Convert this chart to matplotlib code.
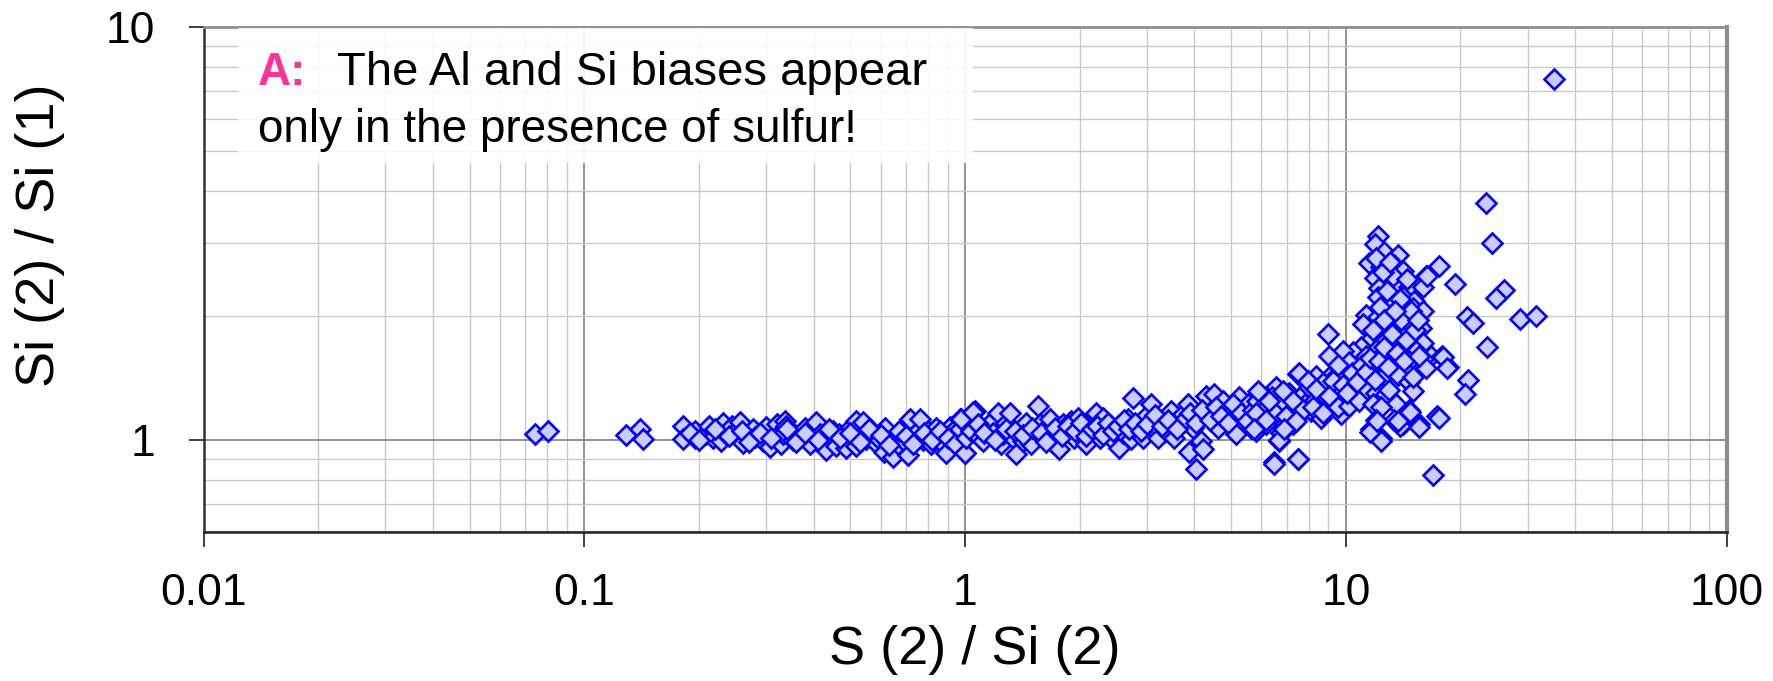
import matplotlib
matplotlib.use("Agg")
import matplotlib.pyplot as plt
from matplotlib.patches import Rectangle
from matplotlib.ticker import LogLocator, NullFormatter, FixedLocator, FixedFormatter

plt.rcParams['font.family'] = ['Liberation Sans', 'DejaVu Sans']

# S(2)/Si(2) vs Si(2)/Si(1), grouped by region of the cloud
low_x = [0.0741, 0.0804, 0.129, 0.140, 0.143, 0.182, 0.182, 0.195, 0.195, 0.209, 0.212,
         0.218, 0.229, 0.231, 0.236, 0.245, 0.248, 0.256, 0.261, 0.277, 0.280, 0.294,
         0.300, 0.308, 0.320, 0.320, 0.329, 0.336, 0.332, 0.339, 0.353, 0.368, 0.379,
         0.391, 0.407, 0.415, 0.432, 0.436, 0.450, 0.459, 0.468, 0.483, 0.488, 0.503,
         0.518, 0.518, 0.529, 0.539, 0.550, 0.562, 0.573, 0.585, 0.597, 0.611, 0.615,
         0.646, 0.652, 0.666, 0.693, 0.707, 0.715, 0.745, 0.760, 0.775, 0.799, 0.815,
         0.840, 0.866, 0.884, 0.893, 0.911, 0.939, 0.958, 0.968, 0.998,
         0.19, 0.20, 0.22, 0.24, 0.26, 0.27, 0.29, 0.31, 0.34, 0.36, 0.38, 0.41, 0.44,
         0.47, 0.50, 0.53, 0.56, 0.60, 0.63, 0.67, 0.70, 0.73, 0.78, 0.82, 0.86, 0.90,
         0.94, 0.97]
low_y = [1.036, 1.050, 1.026, 1.065, 1.007, 1.081, 1.004, 1.052, 1.013, 1.032, 1.081,
         1.013, 0.994, 1.098, 1.032, 1.081, 1.042, 1.106, 0.981, 1.061, 1.017, 0.994,
         1.075, 0.962, 1.092, 1.023, 0.976, 1.112, 1.036, 1.081, 0.998, 1.032, 1.071,
         0.980, 1.102, 1.032, 0.944, 1.032, 1.052, 0.967, 1.032, 0.994, 0.955, 1.075,
         1.112, 0.967, 1.023, 1.102, 1.004, 1.061, 1.028, 0.985, 0.998, 0.937, 1.071,
         0.911, 1.013, 0.976, 0.994, 0.920, 1.122, 1.042, 1.122, 0.998, 1.052, 0.976,
         1.071, 1.013, 0.967, 0.931, 1.075, 1.061, 1.023, 1.122, 0.931,
         1.04, 1.00, 1.06, 1.02, 1.05, 0.99, 1.04, 1.01, 1.06, 0.99, 1.04, 1.00, 1.06,
         1.01, 1.04, 0.99, 1.06, 1.03, 0.97, 1.05, 1.02, 0.98, 1.04, 1.00, 1.05, 1.01,
         0.98, 1.06]

mid_x = [0.977, 0.997, 1.007, 1.039, 1.060, 1.081, 1.093, 1.115, 1.138, 1.160, 1.183,
         1.220, 1.244, 1.256, 1.281, 1.309, 1.335, 1.362, 1.390, 1.418, 1.447, 1.476,
         1.491, 1.553, 1.569, 1.601, 1.650, 1.667, 1.700, 1.752, 1.770, 1.806, 1.843,
         1.899, 1.937, 1.977, 2.036, 2.078, 2.120, 2.166, 2.210, 2.255, 2.300, 2.347,
         2.419, 2.468, 2.544, 2.596, 2.676, 2.730, 2.758, 2.871, 2.929, 2.989, 3.081,
         3.113, 3.208, 3.273, 3.374, 3.478, 3.548, 3.658, 3.732, 3.847, 3.871, 3.964,
         4.044, 4.126, 4.168, 4.210, 4.295, 4.382, 4.517, 4.609, 4.751, 4.849, 4.998,
         5.152, 5.257, 5.419, 5.529, 5.641, 5.815, 5.931, 5.991, 6.175, 6.301, 6.495,
         6.560, 6.694, 6.761, 6.899, 7.039, 7.255, 7.403, 7.478, 7.478, 7.708, 7.865,
         8.107, 8.272, 8.440, 8.612, 8.874, 9.055, 9.239, 9.523, 9.717, 10.02, 10.22,
         10.53, 10.75, 1.05, 1.08,
         1.12, 1.20, 1.28, 1.35, 1.42, 1.50, 1.58, 1.63, 1.72, 1.80, 1.86, 1.95, 2.02,
         2.08, 2.15, 2.22, 2.30, 2.38, 2.45, 2.52, 2.62, 2.70, 2.80, 2.90, 3.00, 3.15,
         3.30, 3.42, 3.60, 3.80, 3.90, 4.05, 4.20, 4.40, 4.55, 4.70, 4.90, 5.05, 5.30,
         5.50, 5.70, 5.85, 6.05, 6.20, 6.40, 6.60, 6.85, 7.10, 7.30, 7.60, 7.80, 8.00,
         8.30, 8.50, 8.80, 9.10, 9.30, 9.60, 9.90]
mid_y = [1.122, 0.931, 1.013, 1.052, 1.176, 1.092, 1.013, 0.994, 1.071, 1.101, 1.042,
         1.165, 0.976, 1.032, 1.101, 1.165, 1.013, 0.923, 1.061, 0.994, 1.101, 1.032,
         0.976, 1.209, 1.092, 1.013, 1.052, 1.122, 0.985, 1.032, 0.949, 1.092, 1.061,
         1.112, 1.013, 1.133, 1.032, 0.976, 1.052, 1.092, 1.165, 1.013, 1.133, 1.052,
         1.081, 0.994, 0.958, 1.042, 1.122, 1.004, 1.262, 1.081, 1.013, 1.143, 1.221,
         1.061, 1.013, 1.112, 1.052, 1.176, 1.013, 1.101, 1.154, 1.221, 0.936, 1.071,
         0.849, 1.133, 0.994, 0.949, 1.279, 1.154, 1.291, 1.071, 1.244, 1.133, 1.187,
         1.032, 1.267, 1.133, 1.221, 1.071, 1.052, 1.291, 1.176, 1.092, 1.244, 0.882,
         1.340, 0.994, 1.042, 1.198, 1.291, 1.092, 1.133, 1.443, 0.898, 1.221, 1.315,
         1.176, 1.391, 1.267, 1.133, 1.221, 1.417, 1.315, 1.443, 1.154, 1.221, 1.365,
         1.291, 1.470, 1.170, 1.092,
         1.04, 1.00, 1.06, 1.05, 1.03, 1.07, 1.04, 0.99, 1.07, 1.02, 1.08, 1.05, 1.10,
         1.02, 1.06, 1.08, 1.03, 1.10, 1.05, 1.08, 1.12, 1.06, 1.10, 1.05, 1.09, 1.15,
         1.08, 1.12, 1.06, 1.13, 1.16, 1.10, 1.18, 1.12, 1.20, 1.14, 1.10, 1.22, 1.16,
         1.11, 1.18, 1.24, 1.14, 1.20, 1.27, 1.17, 1.24, 1.30, 1.19, 1.27, 1.22, 1.34,
         1.25, 1.32, 1.28, 1.36, 1.26, 1.33, 1.42]

peak_x = [12.13, 11.96, 12.62, 13.68, 11.53, 12.37, 13.40, 14.10, 11.96, 13.00, 16.22,
          17.58, 12.25, 13.54, 14.69, 15.90, 12.13, 14.10, 15.13, 12.74, 13.82, 14.99,
          15.90, 11.30, 12.13, 13.27, 14.39, 15.43, 11.07, 12.49, 13.54, 14.69, 15.74,
          11.89, 12.74, 13.96, 15.13, 11.53, 12.49, 13.27, 14.39, 15.90, 10.96, 12.01,
          13.00, 14.10, 15.28, 16.72, 17.94, 10.42, 11.30, 12.37, 13.54, 14.69, 15.90,
          18.50, 9.81, 10.21, 11.07, 11.89, 13.00, 14.10, 16.22, 9.05, 9.52, 10.63,
          11.53, 12.62, 13.68, 14.69, 14.99, 8.96, 8.35, 8.69, 9.23, 9.81, 10.42, 11.30,
          12.01, 12.74, 13.00, 13.54, 7.55, 7.94, 8.35, 9.05, 9.52, 10.21, 10.85, 11.77,
          12.37, 14.69, 17.40, 12.01, 13.40, 14.10, 15.59, 11.65, 12.37, 6.69, 7.48,
          6.49, 16.9, 5.87, 6.30, 6.83, 7.25, 7.70, 8.18, 8.69, 5.81, 6.17, 6.97, 7.40,
          6.90, 5.75,
          10.1, 10.4, 10.7, 11.0, 11.3, 11.6, 11.9, 12.2, 12.6, 12.9, 13.2, 13.6, 14.0,
          14.4, 14.8, 15.2, 15.6, 12.3, 12.8, 13.3, 13.9, 14.5, 12.0, 12.5, 13.1, 11.8,
          12.6, 13.5, 14.2, 15.0, 15.5]
peak_y = [3.11, 2.98, 2.85, 2.80, 2.68, 2.62, 2.65, 2.57, 2.47, 2.46, 2.49,
          2.63, 2.33, 2.34, 2.35, 2.34, 2.22, 2.22, 2.175, 2.13, 2.10, 2.09,
          2.05, 2.01, 1.98, 1.97, 1.97, 1.95, 1.91, 1.88, 1.87, 1.88, 1.87,
          1.82, 1.79, 1.805, 1.78, 1.74, 1.72, 1.73, 1.71, 1.72, 1.68, 1.65,
          1.64, 1.65, 1.64, 1.60, 1.60, 1.63, 1.60, 1.60, 1.57, 1.55, 1.57,
          1.50, 1.64, 1.54, 1.50, 1.52, 1.48, 1.49, 1.49, 1.60, 1.52, 1.45,
          1.44, 1.43, 1.44, 1.38, 1.31, 1.80, 1.43, 1.37, 1.39, 1.36, 1.31, 1.32,
          1.30, 1.29, 1.32, 1.22, 1.45, 1.39, 1.33, 1.28, 1.20, 1.21, 1.243, 1.22,
          1.20, 1.18, 1.14, 1.12, 1.12, 1.09, 1.09, 1.06, 1.01, 1.00, 0.897,
          0.873, 0.82, 1.31, 1.243, 1.31, 1.243, 1.18, 1.20, 1.16, 1.16, 1.12, 1.14, 1.11,
          1.06, 1.06,
          1.30, 1.45, 1.38, 1.52, 1.46, 1.58, 1.40, 1.55, 1.68, 1.50, 1.80, 1.62, 1.95,
          1.75, 2.05, 1.85, 1.60, 2.10, 2.30, 2.50, 2.20, 2.45, 2.75, 2.55, 2.70, 1.85,
          1.95, 2.05, 1.55, 1.42, 1.95]

outlier_x = [35.2, 23.4, 24.2, 19.4, 26.0, 24.8, 20.8, 21.6, 28.6, 31.5, 23.5, 18.0,
             18.4, 20.9, 20.6, 17.6, 15.6, 13.9, 13.7, 14.7, 12.4, 11.6, 12.1, 16.3]
outlier_y = [7.48, 3.74, 2.99, 2.39, 2.31, 2.21, 1.98, 1.92, 1.96, 2.00, 1.68, 1.59,
             1.49, 1.40, 1.29, 1.13, 1.075, 1.08, 1.11, 1.17, 0.995, 1.045, 1.11, 2.49]

xs = low_x + mid_x + peak_x + outlier_x
ys = low_y + mid_y + peak_y + outlier_y

W, H = 1773, 681
fig = plt.figure(figsize=(W / 100, H / 100), dpi=100)
ax = fig.add_axes([203.5 / W, 1 - 531.5 / H, (1726.6 - 203.5) / W, (531.5 - 27) / H])

ax.set_xscale('log')
ax.set_yscale('log')
ax.set_xlim(0.01, 100)
ax.set_ylim(0.6, 10)

ax.plot(xs, ys, linestyle='none', marker='D', markersize=10,
        markerfacecolor='#CCCCFF', markeredgecolor='#0000FF', markeredgewidth=1.9,
        zorder=4, clip_on=False)

# grid: light minor lines, darker decade lines
ax.xaxis.set_major_locator(FixedLocator([0.01, 0.1, 1, 10, 100]))
ax.xaxis.set_major_formatter(FixedFormatter(['0.01', '0.1', '1', '10', '100']))
ax.xaxis.set_minor_locator(LogLocator(base=10, subs=range(2, 10)))
ax.xaxis.set_minor_formatter(NullFormatter())
ax.yaxis.set_major_locator(FixedLocator([1, 10]))
ax.yaxis.set_major_formatter(FixedFormatter(['1', '10']))
ax.yaxis.set_minor_locator(LogLocator(base=10, subs=range(2, 10)))
ax.yaxis.set_minor_formatter(NullFormatter())

ax.grid(which='minor', color='#C8C8C8', linewidth=1.0, zorder=0)
ax.grid(which='major', color='#808080', linewidth=1.2, zorder=0)
ax.set_axisbelow(True)

ax.tick_params(which='major', direction='out', length=11, width=1.2, color='#202020',
               labelsize=32, labelcolor='black')
ax.tick_params(axis='x', which='major', pad=19)
ax.tick_params(axis='y', which='major', pad=24)
ax.tick_params(which='minor', length=0)

ax.spines['left'].set_color('#303030')
ax.spines['left'].set_linewidth(1.8)
ax.spines['bottom'].set_color('#202020')
ax.spines['bottom'].set_linewidth(1.8)
ax.spines['top'].set_color('#8C8C8C')
ax.spines['top'].set_linewidth(2.0)
ax.spines['right'].set_color('#8C8C8C')
ax.spines['right'].set_linewidth(3.0)

fig.text(975 / W, 1 - 650 / H, 'S (2) / Si (2)', fontsize=39, ha='center', va='center')
fig.text(40 / W, 1 - 235 / H, 'Si (2) / Si (1)', fontsize=39, ha='center', va='center',
         rotation=90)

# note box in the upper left of the plot area
ax.add_patch(Rectangle((238 / W, 1 - 163 / H), (973 - 238) / W, (163 - 28) / H,
                       transform=fig.transFigure, facecolor='white', edgecolor='none',
                       alpha=0.9, zorder=3, clip_on=False))
fig.text(258 / W, 1 - 85 / H, 'A:', fontsize=33, fontweight='bold', color='#FF3399',
         ha='left', va='baseline', zorder=5)
fig.text(337 / W, 1 - 85 / H, 'The Al and Si biases appear', fontsize=34,
         ha='left', va='baseline', zorder=5)
fig.text(258 / W, 1 - 142 / H, 'only in the presence of sulfur!', fontsize=33,
         ha='left', va='baseline', zorder=5)

fig.savefig('out.png', dpi=100)
